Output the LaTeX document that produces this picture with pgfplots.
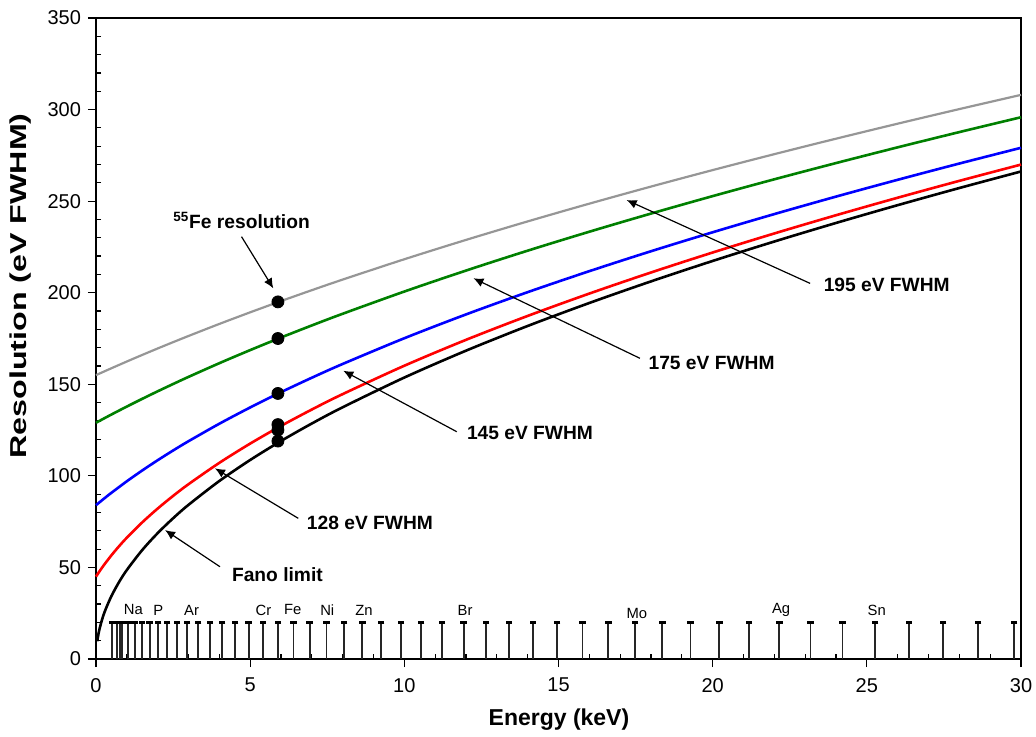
\documentclass[border=0pt]{standalone}
\usepackage{pgfplots}
\pgfplotsset{compat=1.18}
\usepackage{fontspec}
\setmainfont{Liberation Sans}
\usetikzlibrary{arrows.meta}
\definecolor{cgray}{RGB}{150,150,150}
\definecolor{cgreen}{RGB}{0,128,0}
\begin{document}
\begin{tikzpicture}
\path[use as bounding box] (-48pt,-38.5pt) rectangle (470pt,329.5pt);
\begin{axis}[
  at={(0pt,0pt)}, anchor=south west,
  scale only axis, width=462.5pt, height=320.5pt,
  xmin=0, xmax=30, ymin=0, ymax=350,
  xtick={0,5,...,30}, ytick={0,50,...,350},
  minor xtick={1,2,3,4,6,7,8,9,11,12,13,14,16,17,18,19,21,22,23,24,26,27,28,29},
  minor ytick={10,20,30,40,60,70,80,90,110,120,130,140,160,170,180,190,210,220,230,240,260,270,280,290,310,320,330,340},
  xtick pos=left, ytick pos=left,
  tick align=outside, major tick length=4pt, minor tick length=-2.5pt,
  every tick/.style={black, line width=0.6pt},
  axis line style={line width=0.8pt},
  tick label style={font=\fontsize{10}{12}\selectfont},
  /pgf/number format/assume math mode=true,
  xticklabel style={yshift=-2pt},
  xlabel={\fontsize{11.5}{13}\selectfont\bfseries Energy (keV)},
  xlabel style={at={(axis description cs:0.5005,-0.0952)}, anchor=center},
  ylabel={\scalebox{1.4}[1]{\fontsize{11.5}{13}\selectfont\bfseries Resolution (eV FWHM)}},
  ylabel style={at={(axis description cs:-0.0811,0.5819)}, anchor=center, rotate=0},
  clip=false,
]
% element K-alpha lines
\addplot[ycomb, black!85, line width=0.9pt, mark=-, mark size=1.6pt, mark options={line width=1.5pt, black}] coordinates {
(0.525,19.7)(0.677,19.7)(0.78,19.7)(0.849,19.7)(1.041,19.7)(1.254,19.7)(1.487,19.7)(1.740,19.7)
(2.014,19.7)(2.308,19.7)(2.622,19.7)(2.958,19.7)(3.314,19.7)(3.692,19.7)(4.091,19.7)(4.511,19.7)
(4.952,19.7)(5.415,19.7)(5.899,19.7)(6.404,19.7)(6.930,19.7)(7.478,19.7)(8.048,19.7)(8.639,19.7)
(9.252,19.7)(9.886,19.7)(10.544,19.7)(11.222,19.7)(11.924,19.7)(12.649,19.7)(13.395,19.7)(14.165,19.7)
(14.958,19.7)(15.775,19.7)(16.615,19.7)(17.479,19.7)(18.367,19.7)(19.279,19.7)(20.216,19.7)(21.177,19.7)
(22.163,19.7)(23.174,19.7)(24.210,19.7)(25.271,19.7)(26.359,19.7)(27.472,19.7)(28.612,19.7)(29.779,19.7)};
% 195 eV
\addplot[cgray, line width=1.1pt, smooth, no marks] coordinates {
(0,155)(0.25,156.89)(0.5,158.76)(1,162.44)(1.5,166.04)(2,169.56)(2.5,173.00)(3,176.38)(4,182.96)(5,189.30)(6,195.44)(7,201.39)(8,207.17)(10,218.28)(12,228.84)(14,238.94)(16,248.63)(18,257.96)(20,266.96)(22,275.66)(24,284.10)(26,292.30)(28,300.27)(30,308.03)};
% 175 eV
\addplot[cgreen, line width=1.3pt, smooth, no marks] coordinates {
(0,129)(0.25,131.27)(0.5,133.50)(1,137.85)(1.5,142.07)(2,146.17)(2.5,150.15)(3,154.04)(4,161.52)(5,168.67)(6,175.54)(7,182.14)(8,188.51)(10,200.65)(12,212.10)(14,222.96)(16,233.31)(18,243.22)(20,252.75)(22,261.93)(24,270.79)(26,279.38)(28,287.71)(30,295.81)};
% 145 eV
\addplot[blue, line width=1.3pt, smooth, no marks] coordinates {
(0,84)(0.25,87.44)(0.5,90.76)(1,97.05)(1.5,102.95)(2,108.54)(2.5,113.85)(3,118.92)(4,128.47)(5,137.35)(6,145.70)(7,153.59)(8,161.10)(10,175.15)(12,188.15)(14,200.31)(16,211.77)(18,222.65)(20,233.01)(22,242.94)(24,252.48)(26,261.66)(28,270.54)(30,279.13)};
% 128 eV
\addplot[red, line width=1.3pt, smooth, no marks] coordinates {
(0,45)(0.1,47.55)(0.25,51.14)(0.5,56.62)(0.75,61.62)(1,66.23)(1.5,74.62)(2,82.15)(2.5,89.05)(3,95.45)(4,107.11)(5,117.62)(6,127.27)(7,136.23)(8,144.64)(10,160.14)(12,174.27)(14,187.33)(16,199.54)(18,211.05)(20,221.96)(22,232.36)(24,242.31)(26,251.87)(28,261.08)(30,269.97)};
% Fano limit
\addplot[black, line width=1.3pt, smooth, no marks] coordinates {
(0.04,9.72)(0.1,15.37)(0.2,21.73)(0.3,26.62)(0.5,34.37)(0.75,42.09)(1,48.60)(1.5,59.52)(2,68.73)(2.5,76.84)(3,84.18)(4,97.20)(5,108.67)(6,119.05)(7,128.59)(8,137.46)(10,153.69)(12,168.36)(14,181.85)(16,194.40)(18,206.19)(20,217.35)(22,227.96)(24,238.09)(26,247.81)(28,257.17)(30,266.20)};
% 55Fe points
\addplot[only marks, mark=*, mark size=3pt, black] coordinates {
(5.9,195)(5.9,175)(5.9,145)(5.9,128)(5.9,125)(5.9,119)};
% element labels
\begin{scope}[every node/.style={font=\fontsize{7.4}{9}\selectfont, inner sep=0pt}]
\node at (axis cs:1.21,26.8) {Na};
\node at (axis cs:2.02,26.8) {P};
\node at (axis cs:3.10,26.8) {Ar};
\node at (axis cs:5.43,26.8) {Cr};
\node at (axis cs:6.38,26.8) {Fe};
\node at (axis cs:7.50,26.8) {Ni};
\node at (axis cs:8.69,26.8) {Zn};
\node at (axis cs:11.97,26.8) {Br};
\node at (axis cs:17.54,24.6) {Mo};
\node at (axis cs:22.22,26.8) {Ag};
\node at (axis cs:25.32,26.8) {Sn};
\end{scope}
% annotations
\begin{scope}[every node/.style={font=\fontsize{9.6}{11}\selectfont\bfseries, inner sep=0pt}]
\node at (axis cs:4.72,239.3) {\textsuperscript{55}Fe resolution};
\node[anchor=west] at (axis cs:23.59,204.2) {195 eV FWHM};
\node[anchor=west] at (axis cs:17.91,161.8) {175 eV FWHM};
\node[anchor=west] at (axis cs:12.02,123.2) {145 eV FWHM};
\node[anchor=west] at (axis cs:6.83,74.4) {128 eV FWHM};
\node[anchor=west] at (axis cs:4.40,45.9) {Fano limit};
\end{scope}
\begin{scope}[line width=0.6pt, -{Latex[length=5pt,width=4.5pt]}]
\draw (axis cs:4.72,230.6) -- (axis cs:5.75,202.4);
\draw (axis cs:23.16,205.1) -- (axis cs:17.21,250.6);
\draw (axis cs:17.64,164.2) -- (axis cs:12.24,207.9);
\draw (axis cs:11.70,124.1) -- (axis cs:8.02,157.4);
\draw (axis cs:6.56,76.8) -- (axis cs:3.86,104.1);
\draw (axis cs:4.02,50.4) -- (axis cs:2.24,70.4);
\end{scope}
\end{axis}
\end{tikzpicture}
\end{document}
